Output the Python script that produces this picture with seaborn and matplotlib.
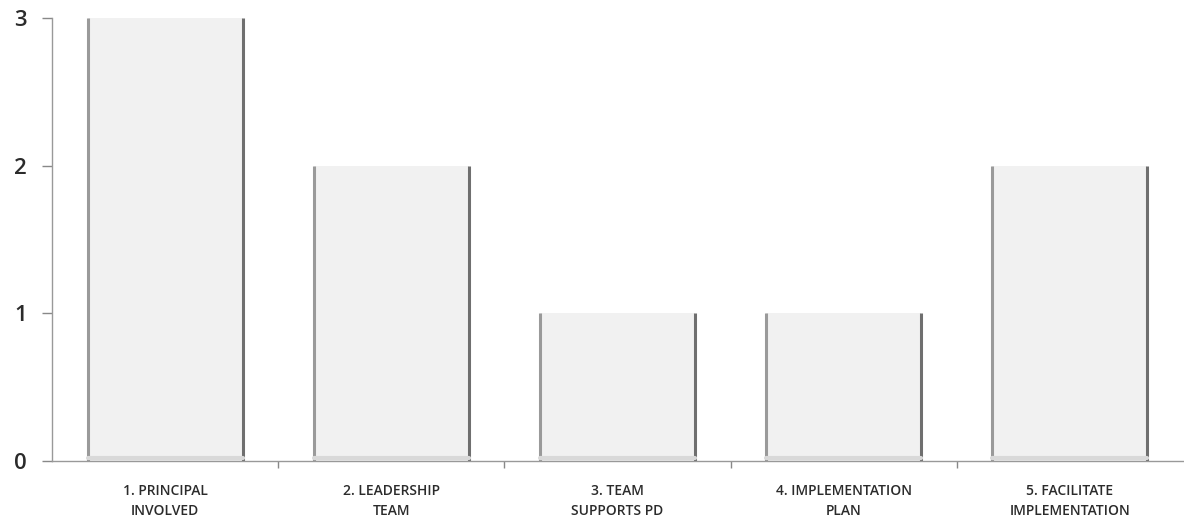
import pandas as pd
import matplotlib.pyplot as plt
from matplotlib.ticker import FixedLocator
import seaborn as sns

# data
categories = ["1. PRINCIPAL\nINVOLVED", "2. LEADERSHIP\nTEAM", "3. TEAM\nSUPPORTS PD",
              "4. IMPLEMENTATION\nPLAN", "5. FACILITATE\nIMPLEMENTATION"]
scores = [3, 2, 1, 1, 2]
yTicks = [0, 1, 2, 3]

sns.set_style("white")
plt.rcParams['font.family'] = ['Open Sans', 'DejaVu Sans']

dataFrame = pd.DataFrame({"Category": categories, "Score": scores})

fig = plt.figure(figsize=(11.84, 5.23), dpi=100)
ax = fig.add_axes([0.044, 0.118, 0.955, 0.848])

sns.barplot(data=dataFrame, x="Category", y="Score", color="#f1f1f1", saturation=1,
            width=0.686, edgecolor="none", linewidth=0, ax=ax)

# dark side edges and a faint base band like the scanned bars
for patch in ax.patches:
    x0 = patch.get_x()
    x1 = x0 + patch.get_width()
    h = patch.get_height()
    ax.plot([x0, x0], [0, h], color="#9a9a9a", linewidth=2.2, solid_capstyle="butt")
    ax.plot([x1, x1], [0, h], color="#6f6f6f", linewidth=2.2, solid_capstyle="butt")
    ax.plot([x0, x1], [0.02, 0.02], color="#d9d9d9", linewidth=3)

ax.set_xlim(-0.5, 4.5)
ax.set_ylim(0, 3)
ax.set_yticks(yTicks)
ax.set_yticklabels([str(t) for t in yTicks], fontsize=16, color="#2b2b2b", fontweight="semibold")
ax.tick_params(axis="y", length=7, width=1, color="#888888", pad=11, left=True)

ax.tick_params(axis="x", which="major", length=0, pad=16, labelsize=10, labelcolor="#2b2b2b")
ax.xaxis.set_minor_locator(FixedLocator([0.5, 1.5, 2.5, 3.5]))
ax.tick_params(axis="x", which="minor", length=5, width=1, color="#888888", bottom=True)
for label in ax.get_xticklabels():
    label.set_linespacing(1.6)
    label.set_fontweight("semibold")

ax.set_xlabel("")
ax.set_ylabel("")
for side in ["top", "right"]:
    ax.spines[side].set_visible(False)
ax.spines["left"].set_color("#999999")
ax.spines["bottom"].set_color("#999999")
ax.spines["left"].set_linewidth(1)
ax.spines["bottom"].set_linewidth(1)

plt.savefig("out.png", dpi=100)
plt.close("all")
